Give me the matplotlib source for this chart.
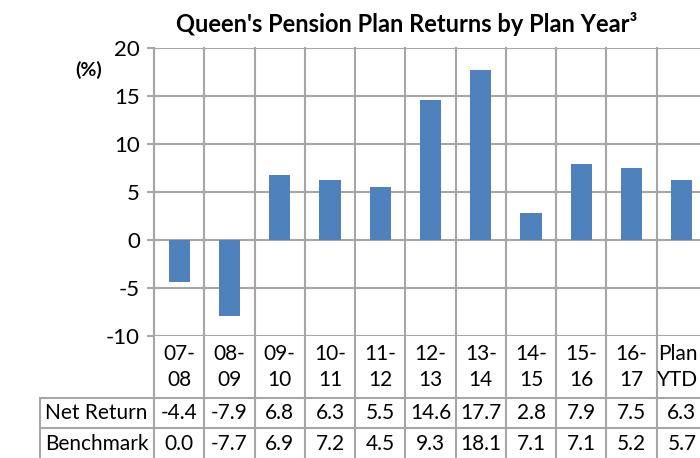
import matplotlib
matplotlib.use("Agg")
import matplotlib.pyplot as plt
from matplotlib import transforms

# chart data
years = ["07-\n08", "08-\n09", "09-\n10", "10-\n11", "11-\n12", "12-\n13",
         "13-\n14", "14-\n15", "15-\n16", "16-\n17", "Plan\nYTD"]
net_return = [-4.4, -7.9, 6.8, 6.3, 5.5, 14.6, 17.7, 2.8, 7.9, 7.5, 6.3]
benchmark = [0.0, -7.7, 6.9, 7.2, 4.5, 9.3, 18.1, 7.1, 7.1, 5.2, 5.7]
row_labels = ["Net Return", "Benchmark"]
y_ticks = [-10, -5, 0, 5, 10, 15, 20]

plt.rcParams['font.family'] = ['Lato', 'DejaVu Sans']
plt.rcParams['axes.unicode_minus'] = False

W, H = 700, 458
GRID = '#a6a6a6'
BAR = '#4F81BD'
FS = 15

fig = plt.figure(figsize=(W / 100, H / 100), dpi=100)
# plot area in pixels: x 154..707 (runs past the right edge), y 48..336
ax = fig.add_axes([154 / W, 1 - 336 / H, 553 / W, 288 / H])

n = len(years)
ax.bar(range(n), net_return, width=0.42, color=BAR, zorder=3)
ax.set_xlim(-0.5, n - 0.5)
ax.set_ylim(y_ticks[0], y_ticks[-1])
ax.set_yticks(y_ticks)
ax.set_xticks([])
for s in ['top', 'right', 'bottom']:
    ax.spines[s].set_visible(False)
ax.spines['left'].set_color(GRID)
ax.spines['left'].set_linewidth(1.5)
ax.tick_params(axis='y', length=5, width=1.5, color=GRID, labelsize=16, pad=5)

for yv in y_ticks:
    ax.axhline(yv, color=GRID, lw=1.5, zorder=1)

# data table below the plot (x in data units, y in axes fraction)
tr = transforms.blended_transform_factory(ax.transData, ax.transAxes)
col_w_px = 553 / n
x_left = -0.5 + (40 - 154) / col_w_px
row_cat = -62 / 288
row_net = -92 / 288
row_bench = -124 / 288

for i in range(n + 1):
    ax.plot([i - 0.5, i - 0.5], [1, row_bench], color=GRID, lw=1.5,
            transform=tr, clip_on=False, zorder=1)
for yy in [row_cat, row_net]:
    ax.plot([x_left, n - 0.5], [yy, yy], color=GRID, lw=1.5,
            transform=tr, clip_on=False)
ax.plot([x_left, x_left], [row_cat, row_bench], color=GRID, lw=1.5,
        transform=tr, clip_on=False)

for i, lab in enumerate(years):
    # last column is clipped by the image edge, nudge it in a little
    xc = i - 0.08 if i == n - 1 else i
    ax.text(xc, row_cat / 2, lab, transform=tr, ha='center', va='center',
            fontsize=FS, linespacing=1.35, multialignment='center')
    ax.text(i, (row_cat + row_net) / 2, f"{net_return[i]:.1f}", transform=tr,
            ha='center', va='center', fontsize=FS)
    ax.text(i, (row_net + row_bench) / 2, f"{benchmark[i]:.1f}", transform=tr,
            ha='center', va='center', fontsize=FS)

x_lab = x_left + 5 / col_w_px
ax.text(x_lab, (row_cat + row_net) / 2, row_labels[0], transform=tr,
        ha='left', va='center', fontsize=FS)
ax.text(x_lab, (row_net + row_bench) / 2, row_labels[1], transform=tr,
        ha='left', va='center', fontsize=FS)

fig.text(407 / W, 1 - 24 / H, "Queen's Pension Plan Returns by Plan Year\u00b3",
         ha='center', va='center', fontsize=17, fontweight='bold')
fig.text(89 / W, 1 - 70 / H, "(%)", ha='center', va='center',
         fontsize=14, fontweight='bold')

fig.savefig("out.png", dpi=100)
